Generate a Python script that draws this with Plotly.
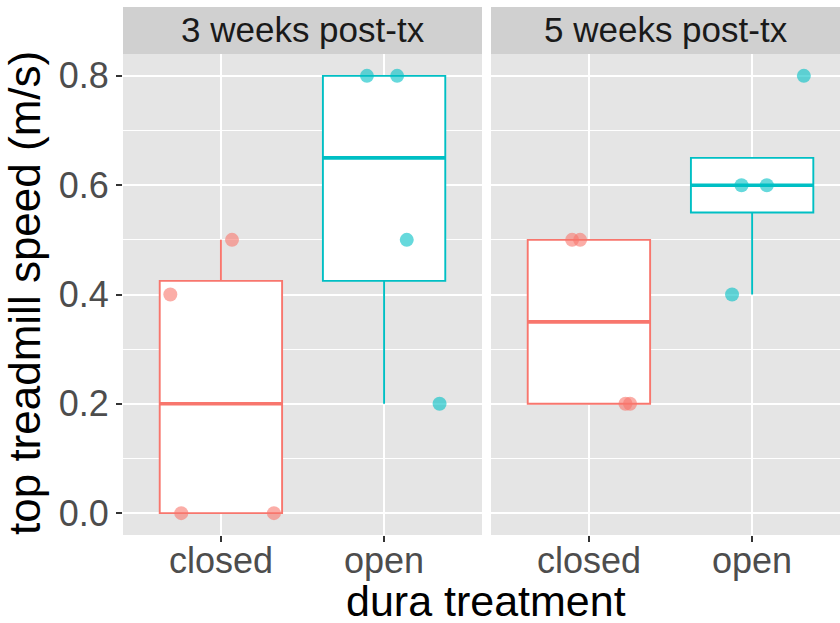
import numpy as np
import plotly.graph_objects as go

# ---------------- data ----------------
categories = ["closed", "open"]
facets = ["3 weeks post-tx", "5 weeks post-tx"]

speed_3wk_closed = [0.4, 0.0, 0.5, 0.0]
jitter_3wk_closed = [-0.31, -0.243, 0.068, 0.325]
speed_3wk_open = [0.8, 0.8, 0.5, 0.2]
jitter_3wk_open = [-0.105, 0.08, 0.139, 0.34]

speed_5wk_closed = [0.5, 0.5, 0.2, 0.2]
jitter_5wk_closed = [-0.103, -0.054, 0.224, 0.252]
speed_5wk_open = [0.8, 0.6, 0.6, 0.4]
jitter_5wk_open = [0.317, -0.065, 0.09, -0.123]

# whisker ends as drawn (outliers hidden in the original)
whisker_low = {"3wk_closed": 0.0, "3wk_open": 0.2, "5wk_closed": 0.2, "5wk_open": 0.4}
whisker_high = {"3wk_closed": 0.5, "3wk_open": 0.8, "5wk_closed": 0.5, "5wk_open": 0.65}

y_ticks = [0.0, 0.2, 0.4, 0.6, 0.8]
y_minor = [0.1, 0.3, 0.5, 0.7]

colors = {"closed": "#F8766D", "open": "#00BFC4"}

groups = [
    ("3wk_closed", "closed", speed_3wk_closed, jitter_3wk_closed, "x", "y"),
    ("3wk_open", "open", speed_3wk_open, jitter_3wk_open, "x", "y"),
    ("5wk_closed", "closed", speed_5wk_closed, jitter_5wk_closed, "x2", "y2"),
    ("5wk_open", "open", speed_5wk_open, jitter_5wk_open, "x2", "y2"),
]

FONT = "Liberation Sans, Arial, sans-serif"
BOX_W = 0.75
fig = go.Figure()

# boxes
for key, cat, vals, jit, xa, ya in groups:
    xpos = categories.index(cat) + 1
    arr = np.array(vals)
    q1, med, q3 = np.percentile(arr, [25, 50, 75])
    col = colors[cat]
    fig.add_trace(go.Box(
        x=[xpos], q1=[q1], median=[med], q3=[q3],
        lowerfence=[whisker_low[key]], upperfence=[whisker_high[key]],
        width=BOX_W, whiskerwidth=0, boxpoints=False,
        fillcolor="white", line=dict(color=col, width=1.9),
        xaxis=xa, yaxis=ya, showlegend=False, hoverinfo="skip",
    ))
    # thicker median line (ggplot fatten)
    fig.add_trace(go.Scatter(
        x=[xpos - BOX_W / 2, xpos + BOX_W / 2], y=[med, med], mode="lines",
        line=dict(color=col, width=3.6), xaxis=xa, yaxis=ya,
        showlegend=False, hoverinfo="skip",
    ))

# jittered points
for key, cat, vals, jit, xa, ya in groups:
    xpos = categories.index(cat) + 1
    fig.add_trace(go.Scatter(
        x=[xpos + j for j in jit], y=vals, mode="markers",
        marker=dict(color=colors[cat], size=14, opacity=0.6, line=dict(width=0)),
        xaxis=xa, yaxis=ya, showlegend=False, hoverinfo="skip",
    ))

W, H = 840, 623
ML, MR, MT, MB = 123, 0, 54, 88
pw = W - ML - MR
ph = H - MT - MB
d1 = [0, 359 / pw]
d2 = [368 / pw, 1]

tickfont = dict(family=FONT, size=36, color="#4D4D4D")
common_x = dict(
    tickvals=[1, 2], showticklabels=False, showgrid=True, gridcolor="white",
    gridwidth=2, zeroline=False, ticks="outside", ticklen=6, tickwidth=1.5,
    tickcolor="#333333", showline=False, fixedrange=True,
)
common_y = dict(
    range=[-0.04, 0.84], tickvals=y_ticks, tickformat=".1f", showgrid=True,
    gridcolor="white", gridwidth=2, zeroline=False, showline=False,
    minor=dict(tickvals=y_minor, showgrid=True, gridcolor="white", gridwidth=1, ticks=""),
)

strip_top = 1 + 47 / ph
shapes = []
annotations = []
for dom, label in zip([d1, d2], facets):
    shapes.append(dict(type="rect", xref="paper", yref="paper", x0=dom[0], x1=dom[1],
                       y0=1, y1=strip_top, fillcolor="#D0D0D0", line=dict(width=0), layer="below"))
    annotations.append(dict(text=label, xref="paper", yref="paper", x=(dom[0] + dom[1]) / 2,
                            y=(1 + strip_top) / 2, yshift=1, xanchor="center", yanchor="middle",
                            showarrow=False, font=dict(family=FONT, size=35, color="#1A1A1A")))

# x tick labels for both panels
for xa in ["x", "x2"]:
    for i, cat in enumerate(categories):
        annotations.append(dict(text=cat, xref=xa, yref="paper", x=i + 1, y=0, yshift=-25,
                                xanchor="center", yanchor="middle", showarrow=False, font=tickfont))

annotations.append(dict(text="dura treatment", xref="paper", yref="paper", x=(486 - ML) / pw,
                        y=0, yshift=-66, xanchor="center", yanchor="middle", showarrow=False,
                        font=dict(family=FONT, size=43, color="black")))
annotations.append(dict(text="top treadmill speed (m/s)", xref="paper", yref="paper", x=0, xshift=24 - ML,
                        y=(535 - 293) / ph, xanchor="center", yanchor="middle", textangle=-90, showarrow=False,
                        font=dict(family=FONT, size=44, color="black")))

fig.update_layout(
    width=W, height=H, margin=dict(l=ML, r=MR, t=MT, b=MB, pad=0),
    paper_bgcolor="white", plot_bgcolor="#E5E5E5",
    xaxis=dict(domain=d1, range=[0.4, 2.6], anchor="y", **common_x),
    xaxis2=dict(domain=d2, range=[0.4, 0.4 + 349 / 163.2], anchor="y2", **common_x),
    yaxis=dict(anchor="x", ticks="outside", ticklen=6, tickwidth=1.5, tickcolor="#333333",
               tickfont=tickfont, **common_y),
    yaxis2=dict(anchor="x2", matches="y", showticklabels=False, ticks="", **common_y),
    shapes=shapes, annotations=annotations, showlegend=False, boxmode="overlay",
)

fig.write_html("out.html")
